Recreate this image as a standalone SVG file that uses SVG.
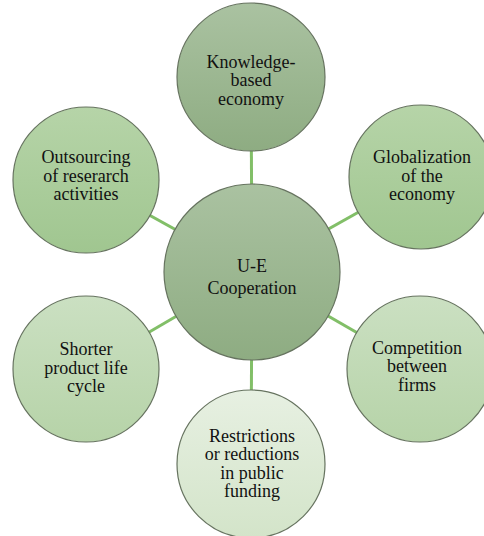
<svg xmlns="http://www.w3.org/2000/svg" width="484" height="536" viewBox="0 0 484 536">
  <defs>
    <linearGradient id="gDark" x1="0" y1="0" x2="0" y2="1">
      <stop offset="0" stop-color="#aac2a1"/>
      <stop offset="1" stop-color="#8eac82"/>
    </linearGradient>
    <linearGradient id="gMid" x1="0" y1="0" x2="0" y2="1">
      <stop offset="0" stop-color="#b6d4a8"/>
      <stop offset="1" stop-color="#a0c690"/>
    </linearGradient>
    <linearGradient id="gLight" x1="0" y1="0" x2="0" y2="1">
      <stop offset="0" stop-color="#cbe0c2"/>
      <stop offset="1" stop-color="#b6d3a8"/>
    </linearGradient>
    <linearGradient id="gPale" x1="0" y1="0" x2="0" y2="1">
      <stop offset="0" stop-color="#e7f0e2"/>
      <stop offset="1" stop-color="#d3e4c9"/>
    </linearGradient>
  </defs>
  <style>
    .node { stroke: #66735f; stroke-width: 1.2; }
    .link { stroke: #82bf68; stroke-width: 3; fill: none; }
    .lbl { font-family: 'Liberation Serif', 'Times New Roman', serif; font-size: 18px; fill: #111111; text-anchor: middle; }
  </style>

  <rect width="484" height="536" fill="#ffffff"/>

  <!-- spokes from the hub to each surrounding factor -->
  <g id="connectors">
    <line class="link" x1="252" y1="272" x2="251" y2="77"/>
    <line class="link" x1="252" y1="272" x2="86" y2="180"/>
    <line class="link" x1="252" y1="272" x2="421" y2="177"/>
    <line class="link" x1="252" y1="272" x2="86" y2="369"/>
    <line class="link" x1="252" y1="272" x2="420" y2="369"/>
    <line class="link" x1="252" y1="272" x2="251" y2="464"/>
  </g>

  <g id="knowledge">
    <circle class="node" cx="251" cy="77" r="74" fill="url(#gDark)"/>
    <text class="lbl" font-family="Liberation Serif, serif" x="251" y="67.5">Knowledge-<tspan x="251" dy="18.5">based</tspan><tspan x="251" dy="18.5">economy</tspan></text>
  </g>

  <g id="outsourcing">
    <circle class="node" cx="86" cy="180" r="73" fill="url(#gMid)"/>
    <text class="lbl" font-family="Liberation Serif, serif" x="86" y="163">Outsourcing<tspan x="86" dy="18.5">of reserarch</tspan><tspan x="86" dy="18.5">activities</tspan></text>
  </g>

  <g id="globalization">
    <circle class="node" cx="421" cy="177" r="72" fill="url(#gMid)"/>
    <text class="lbl" font-family="Liberation Serif, serif" x="422" y="163">Globalization<tspan x="422" dy="18.5">of the</tspan><tspan x="422" dy="18.5">economy</tspan></text>
  </g>

  <g id="shorter">
    <circle class="node" cx="86" cy="369" r="73" fill="url(#gLight)"/>
    <text class="lbl" font-family="Liberation Serif, serif" x="86" y="355">Shorter<tspan x="86" dy="18.5">product life</tspan><tspan x="86" dy="18.5">cycle</tspan></text>
  </g>

  <g id="competition">
    <circle class="node" cx="420" cy="369" r="73" fill="url(#gLight)"/>
    <text class="lbl" font-family="Liberation Serif, serif" x="417" y="353.5">Competition<tspan x="417" dy="18.5">between</tspan><tspan x="417" dy="18.5">firms</tspan></text>
  </g>

  <g id="restrictions">
    <circle class="node" cx="251" cy="464" r="74" fill="url(#gPale)"/>
    <text class="lbl" font-family="Liberation Serif, serif" x="252" y="441.5">Restrictions<tspan x="252" dy="18.5">or reductions</tspan><tspan x="252" dy="18.5">in public</tspan><tspan x="252" dy="18.5">funding</tspan></text>
  </g>

  <g id="cooperation">
    <circle class="node" cx="252" cy="272" r="88" fill="url(#gDark)"/>
    <text class="lbl" font-family="Liberation Serif, serif" x="252" y="272">U-E<tspan x="252" dy="22">Cooperation</tspan></text>
  </g>
</svg>
